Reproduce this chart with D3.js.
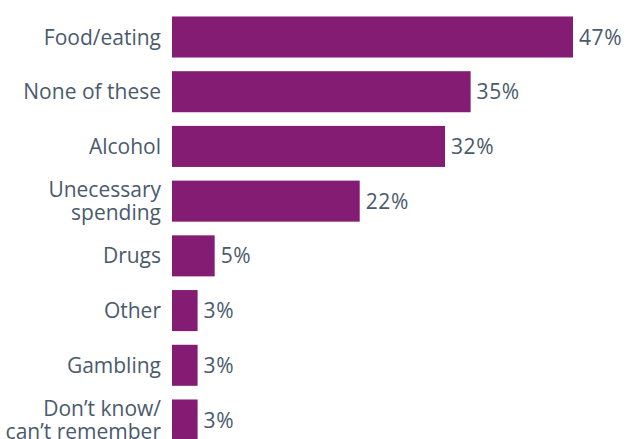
<!DOCTYPE html>
<html><head><meta charset="utf-8">
<script src="https://cdn.jsdelivr.net/npm/d3@7"></script>
<style>body{margin:0;background:#fff}svg{display:block}</style>
</head><body>
<script>
const categories = [["Food/eating"],["None of these"],["Alcohol"],["Unecessary","spending"],["Drugs"],["Other"],["Gambling"],["Don’t know/","can’t remember"]];
const values = [47,35,32,22,5,3,3,3];
const valueLabels = ["47%","35%","32%","22%","5%","3%","3%","3%"];

const W=629,H=439;
const svg=d3.select("body").append("svg").attr("width",W).attr("height",H);
const keys=categories.map((c,i)=>i);
const x=d3.scaleLinear().domain([0,47]).range([172,573]);
const step=(420-37)/7;
const y=d3.scaleBand().domain(keys).range([37-step/2,420+step/2]).paddingInner(0.25).paddingOuter(0.125);
const font="'Open Sans', sans-serif";
const textColor="#4a5a6b";
const fs=21;
svg.selectAll("rect.bar").data(values).join("rect")
 .attr("x",x(0)).attr("y",(d,i)=>y(i)).attr("width",d=>x(d)-x(0)).attr("height",y.bandwidth())
 .attr("fill","#841c73");
svg.selectAll("text.val").data(values).join("text")
 .attr("x",d=>x(d)+6).attr("y",(d,i)=>y(i)+y.bandwidth()/2).attr("dy","0.36em")
 .attr("font-family",font).attr("font-size",fs).attr("letter-spacing",0.6).attr("fill",textColor)
 .text((d,i)=>valueLabels[i]);
const lab=svg.selectAll("text.lab").data(categories).join("text")
 .attr("text-anchor","end").attr("font-family",font).attr("font-size",fs).attr("fill",textColor)
 .attr("y",(d,i)=>y(i)+y.bandwidth()/2);
lab.each(function(d){
  const t=d3.select(this);
  const lh=22.5;
  d.forEach((s,j)=>{
    t.append("tspan").attr("x",161).attr("dy",j===0?((-(d.length-1)*lh/2)/fs+0.36)+"em":lh+"px").text(s);
  });
});
</script>
</body></html>
